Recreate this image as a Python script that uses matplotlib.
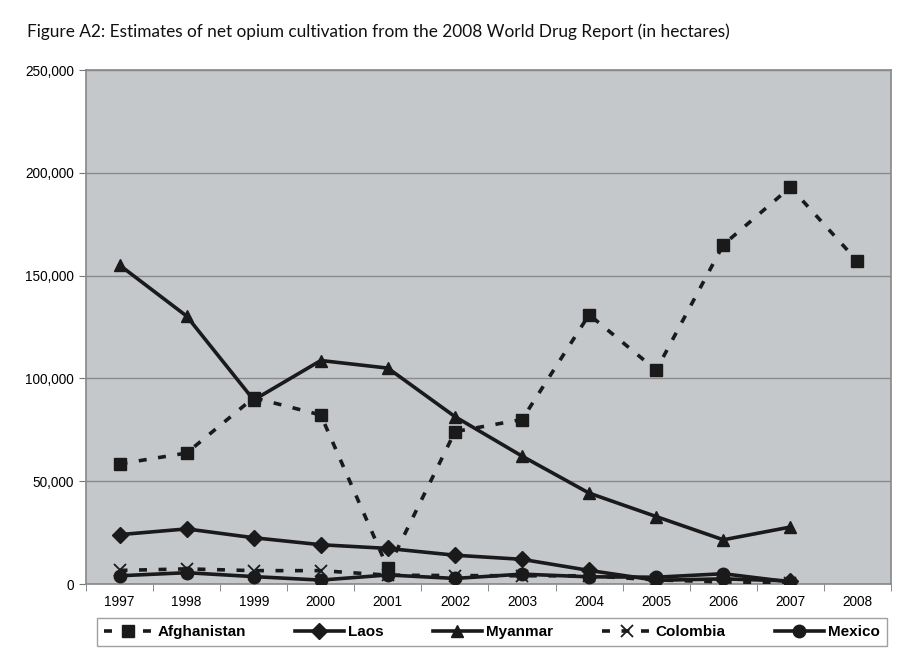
import matplotlib
matplotlib.use("Agg")
import matplotlib.pyplot as plt
import numpy as np

years = ["1997", "1998", "1999", "2000", "2001", "2002", "2003", "2004", "2005", "2006", "2007", "2008"]
afghanistan = [58400, 63700, 90600, 82200, 7600, 74100, 80000, 131000, 104000, 165000, 193000, 157000]
laos = [24000, 26800, 22500, 19100, 17300, 14000, 12000, 6600, 1800, 2500, 1500]
myanmar = [155100, 130300, 89500, 108700, 105000, 81400, 62200, 44200, 32800, 21500, 27700]
colombia = [6600, 7350, 6500, 6500, 4300, 4100, 4000, 4000, 2000, 1000, 700]
mexico = [4000, 5500, 3600, 1900, 4400, 2700, 4800, 3500, 3300, 5000, 1000]
yticks = [0, 50000, 100000, 150000, 200000, 250000]

plt.rcParams['font.family'] = ['Liberation Sans', 'DejaVu Sans']
fig = plt.figure(figsize=(9.2, 6.54), dpi=100)
ax = fig.add_axes([86/920, 1-584/654, (891-86)/920, (584-70)/654])
ax.set_facecolor('#c5c8cb')

x = np.arange(len(years))
col = '#1a1a1a'
lw = 2.6
ax.plot(x[:len(afghanistan)], afghanistan, color=col, lw=lw, ls=(0, (2.2, 3.2)),
        marker='s', ms=9, label='Afghanistan', zorder=5)
ax.plot(x[:len(laos)], laos, color=col, lw=lw, marker='D', ms=8, label='Laos', zorder=4)
ax.plot(x[:len(myanmar)], myanmar, color=col, lw=lw, marker='^', ms=9, label='Myanmar', zorder=4)
ax.plot(x[:len(colombia)], colombia, color=col, lw=lw, ls=(0, (2.2, 3.2)), marker='x', ms=9,
        mew=1.3, label='Colombia', zorder=3)
ax.plot(x[:len(mexico)], mexico, color=col, lw=lw, marker='o', ms=9, label='Mexico', zorder=4)

ax.set_xlim(-0.5, len(years) - 0.5)
ax.set_ylim(0, 250000)
ax.set_yticks(yticks)
ax.set_yticklabels([f"{v:,}" for v in yticks], fontsize=9.8)
ax.set_xticks(x)
ax.set_xticklabels(years, fontsize=9.8)
ax.set_xticks(np.arange(-0.5, len(years)), minor=True)
ax.tick_params(axis='x', which='major', length=0, pad=8)
ax.tick_params(axis='x', which='minor', length=5, color='#777777', direction='out')
ax.tick_params(axis='y', length=5, color='#777777', direction='out')
ax.grid(axis='y', color='#8a8a8a', lw=1.0)
ax.set_axisbelow(True)
for s in ['top', 'right', 'left', 'bottom']:
    ax.spines[s].set_color('#888888')
    ax.spines[s].set_linewidth(1.2)

fig.text(27/920, 1-32/654, "Figure A2: Estimates of net opium cultivation from the 2008 World Drug Report (in hectares)",
         fontsize=12.4, family=['Lato', 'DejaVu Sans'], va='center', ha='left', color='#111111')

leg = fig.legend(loc='center', bbox_to_anchor=(492/920, 1-632/654), ncol=5, frameon=True,
                 fancybox=False, edgecolor='#888888', prop={'weight': 'bold', 'size': 11},
                 handlelength=3.2, columnspacing=3.2, handletextpad=0.3, borderpad=0.45)
leg.get_frame().set_linewidth(1.0)

fig.savefig('out.png', dpi=100, facecolor='white')
